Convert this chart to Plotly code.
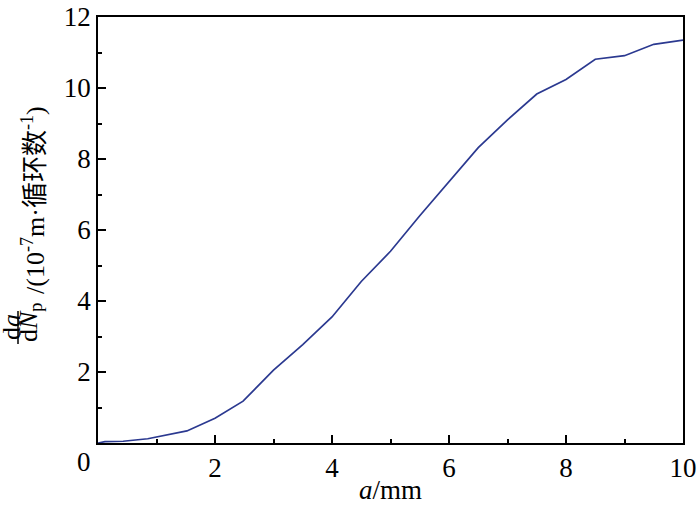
import plotly.graph_objects as go

# crack length a (mm) and crack growth rate da/dNp (1e-7 m/cycle)
crack_len = [0, 0.12, 0.43, 0.85, 1.52, 2.0, 2.48, 3.0, 3.5, 4.0, 4.5, 5.0,
             5.5, 6.0, 6.5, 7.0, 7.5, 8.0, 8.5, 9.0, 9.5, 10.0]
growth_rate = [0, 0.04, 0.05, 0.12, 0.34, 0.7, 1.18, 2.05, 2.77, 3.55, 4.55, 5.4,
               6.4, 7.35, 8.32, 9.1, 9.83, 10.24, 10.81, 10.91, 11.23, 11.35]

x_ticks = [2, 4, 6, 8, 10]
y_ticks = [2, 4, 6, 8, 10, 12]

W, H = 700, 505
L, R, T, B = 98, 17, 17, 62
FONT = "Liberation Serif, Times New Roman, Noto Sans CJK SC"


def px(x):
    return (x - L) / (W - L - R)


def py(y):
    return (H - B - y) / (H - T - B)


fig = go.Figure()
fig.add_trace(go.Scatter(
    x=crack_len, y=growth_rate, mode="lines",
    line=dict(color="#2b3990", width=1.7),
    showlegend=False,
))

axis_common = dict(
    showline=True, linecolor="black", linewidth=1.5, mirror=True,
    ticks="inside", ticklen=8, tickwidth=1.5, tickcolor="black",
    showgrid=False, zeroline=False, automargin=False,
    tickfont=dict(family=FONT, size=27, color="black"),
    minor=dict(ticks="inside", ticklen=4, tickwidth=1.5, tickcolor="black", dtick=1),
)

fig.update_xaxes(range=[0, 10], tickvals=x_ticks, dtick=2, tick0=0, **axis_common,
                 title=dict(text="<i>a</i>/mm", standoff=4,
                            font=dict(family=FONT, size=27, color="black")))
fig.update_yaxes(range=[0, 12], tickvals=y_ticks, dtick=2, tick0=0, **axis_common)

# y-axis title: da/dNp fraction followed by the unit, rotated
ann_font = dict(family=FONT, size=26, color="black")
fig.add_annotation(text="/(10<sup>-7</sup>m·循环数<sup>-1</sup>)", textangle=-90,
                   xref="paper", yref="paper", x=px(33), y=py(200),
                   xanchor="center", yanchor="middle", showarrow=False, font=ann_font)
fig.add_annotation(text="d<i>a</i>", textangle=-90,
                   xref="paper", yref="paper", x=px(11), y=py(327),
                   xanchor="center", yanchor="middle", showarrow=False, font=ann_font)
fig.add_annotation(text="d<i>N</i><sub>p</sub>", textangle=-90,
                   xref="paper", yref="paper", x=px(30), y=py(323),
                   xanchor="center", yanchor="middle", showarrow=False, font=ann_font)
fig.add_shape(type="line", xref="paper", yref="paper",
              x0=px(18), x1=px(18), y0=py(311), y1=py(344),
              line=dict(color="black", width=1.5))
fig.add_annotation(text="0", xref="paper", yref="paper", x=px(84), y=py(462),
                   xanchor="center", yanchor="middle", showarrow=False,
                   font=dict(family=FONT, size=27, color="black"))

fig.update_layout(
    width=W, height=H,
    margin=dict(l=L, r=R, t=T, b=B),
    paper_bgcolor="white", plot_bgcolor="white",
)

# page has a default 8px body margin; drop it so the figure fills the window
fig.write_html("out.html", config={"displayModeBar": False},
               post_script="document.body.style.margin='0';")
